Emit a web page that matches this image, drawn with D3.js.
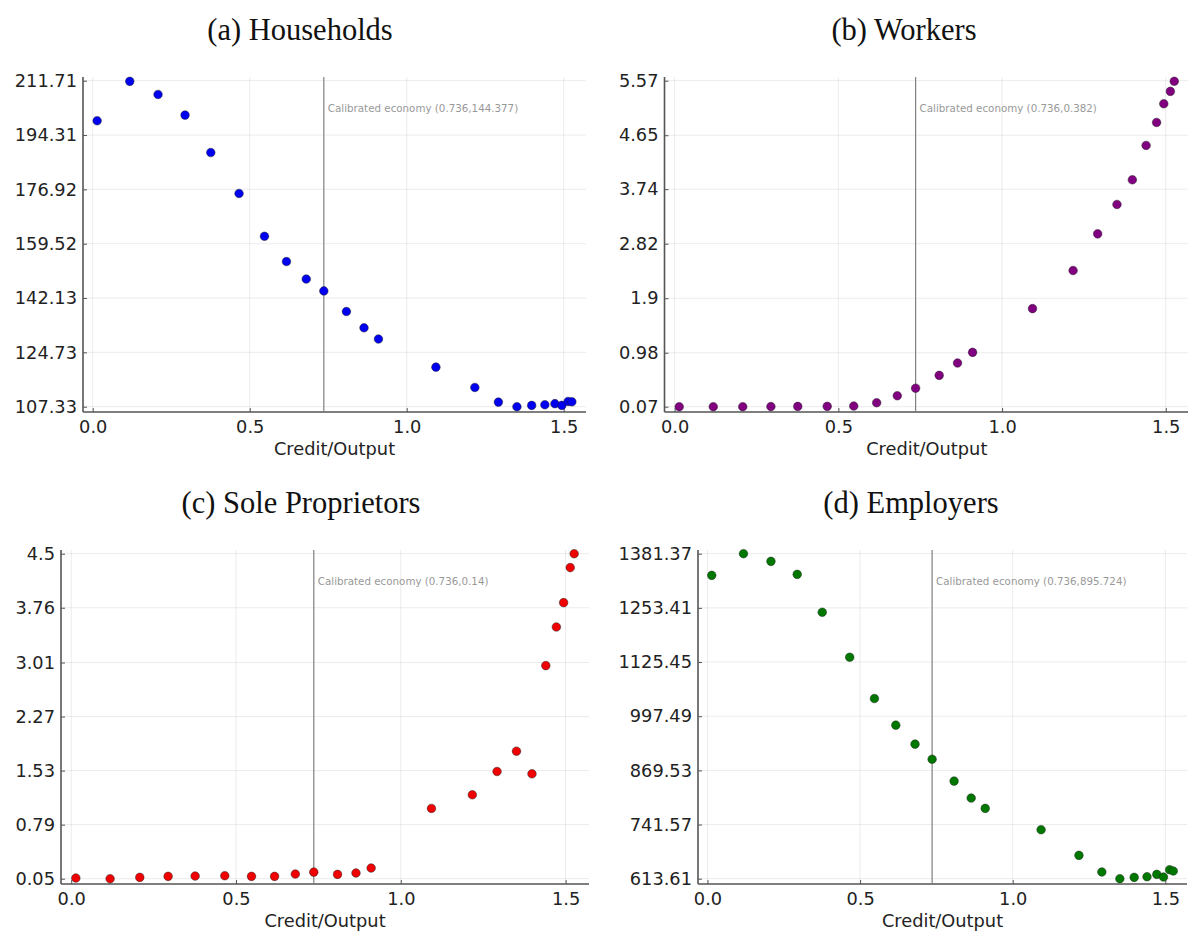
<!DOCTYPE html>
<html>
<head>
<meta charset="utf-8">
<script src="https://cdn.jsdelivr.net/npm/d3@7"></script>
<style>
  body { margin: 0; background: #fff; }
  svg { display: block; }
</style>
</head>
<body>
<div id="chart"></div>
<script>
// credit/output values shared by all four panels
const creditOutput = [0.014, 0.118, 0.208, 0.294, 0.376, 0.466, 0.547, 0.617, 0.680, 0.736,
    0.808, 0.864, 0.910, 1.093, 1.217, 1.292, 1.351, 1.398, 1.440, 1.472, 1.494, 1.514, 1.526];

const households = [198.9, 211.5, 207.3, 200.7, 188.7, 175.6, 161.9, 153.8, 148.2, 144.4,
    137.8, 132.6, 129.0, 120.0, 113.5, 108.8, 107.33, 107.75, 107.96, 108.3, 107.75, 109.0, 108.9];
const workers = [0.07, 0.07, 0.07, 0.072, 0.075, 0.076, 0.081, 0.137, 0.255, 0.382,
    0.599, 0.807, 0.987, 1.725, 2.367, 2.986, 3.482, 3.898, 4.478, 4.866, 5.181, 5.39, 5.56];
const soleProprietors = [0.059, 0.05, 0.068, 0.082, 0.086, 0.091, 0.082, 0.082, 0.114, 0.14,
    0.109, 0.128, 0.196, 1.012, 1.199, 1.518, 1.796, 1.486, 2.968, 3.497, 3.83, 4.31, 4.5];
const employers = [1330.2, 1381.37, 1363.3, 1332.6, 1243.0, 1136.8, 1039.2, 976.3, 931.5, 895.7,
    844.2, 804.1, 779.7, 729.4, 668.8, 629.5, 613.6, 616.8, 618.3, 623.8, 617.5, 634.8, 631.7];

const xTicks = [0, 0.5, 1.0, 1.5];
const householdsTicks = ["107.33", "124.73", "142.13", "159.52", "176.92", "194.31", "211.71"];
const workersTicks = ["0.07", "0.98", "1.9", "2.82", "3.74", "4.65", "5.57"];
const soleTicks = ["0.05", "0.79", "1.53", "2.27", "3.01", "3.76", "4.5"];
const employersTicks = ["613.61", "741.57", "869.53", "997.49", "1125.45", "1253.41", "1381.37"];

const calibrated = 0.736;
const titles = ["(a) Households", "(b) Workers", "(c) Sole Proprietors", "(d) Employers"];
const calibratedLabels = ["144.377", "0.382", "0.14", "895.724"];

const W = 1188, H = 932;
const svg = d3.select("#chart").append("svg")
    .attr("width", W)
    .attr("height", H);

// layout of each panel (pixels)
const panels = [
    {values: households, ticks: householdsTicks, color: "#0000f0", left: 83, right: 586, top: 77, bottom: 412, titleX: 300},
    {values: workers, ticks: workersTicks, color: "#800080", left: 664.5, right: 1189, top: 77, bottom: 412, titleX: 904},
    {values: soleProprietors, ticks: soleTicks, color: "#f00000", left: 61, right: 589, top: 550, bottom: 884, titleX: 301},
    {values: employers, ticks: employersTicks, color: "#007800", left: 698, right: 1187, top: 550, bottom: 884, titleX: 911}
];

panels.forEach(function(p, i) {
    let g = svg.append("g");

    let x = d3.scaleLinear().domain([-0.031, 1.571]).range([p.left, p.right]);
    let tickVals = p.ticks.map(Number);
    let y = d3.scaleLinear()
        .domain([tickVals[0], tickVals[tickVals.length - 1]])
        .range([p.bottom - 5.3, p.top + 3.7]);

    // title
    g.append("text")
        .attr("x", p.titleX)
        .attr("y", p.top - 37)
        .attr("text-anchor", "middle")
        .attr("font-family", "Liberation Serif, serif")
        .attr("font-size", 30.5)
        .attr("fill", "#111")
        .text(titles[i]);

    // grid
    g.append("g").selectAll("line")
        .data(xTicks)
        .enter().append("line")
        .attr("x1", d => x(d)).attr("x2", d => x(d))
        .attr("y1", p.top).attr("y2", p.bottom)
        .attr("stroke", "#000").attr("stroke-opacity", 0.08);
    g.append("g").selectAll("line")
        .data(tickVals)
        .enter().append("line")
        .attr("x1", p.left).attr("x2", p.right)
        .attr("y1", d => y(d)).attr("y2", d => y(d))
        .attr("stroke", "#000").attr("stroke-opacity", 0.08);

    // axes
    let xAxis = d3.axisBottom(x).tickValues(xTicks).tickFormat(d3.format(".1f"))
        .tickSizeInner(-4).tickSizeOuter(0).tickPadding(8);
    let yAxis = d3.axisLeft(y).tickValues(tickVals).tickFormat((d, j) => p.ticks[j])
        .tickSizeInner(-4).tickSizeOuter(0).tickPadding(6);

    let gx = g.append("g").attr("transform", "translate(0," + p.bottom + ")").call(xAxis);
    let gy = g.append("g").attr("transform", "translate(" + p.left + ",0)").call(yAxis);
    [gx, gy].forEach(function(a) {
        a.select(".domain").remove();
        a.selectAll(".tick line").attr("stroke", "#555");
        a.selectAll("text")
            .attr("font-family", "DejaVu Sans, sans-serif")
            .attr("font-size", 17.8)
            .attr("fill", "#222");
    });

    // spines
    g.append("line")
        .attr("x1", p.left).attr("x2", p.left)
        .attr("y1", p.top).attr("y2", p.bottom)
        .attr("stroke", "#555").attr("stroke-width", 1.6);
    g.append("line")
        .attr("x1", p.left).attr("x2", p.right)
        .attr("y1", p.bottom).attr("y2", p.bottom)
        .attr("stroke", "#555").attr("stroke-width", 1.6);

    // x label
    g.append("text")
        .attr("x", (p.left + p.right) / 2)
        .attr("y", p.bottom + 43)
        .attr("text-anchor", "middle")
        .attr("font-family", "DejaVu Sans, sans-serif")
        .attr("font-size", 17.8)
        .attr("fill", "#222")
        .text("Credit/Output");

    // calibrated economy line
    g.append("line")
        .attr("x1", x(calibrated)).attr("x2", x(calibrated))
        .attr("y1", p.top).attr("y2", p.bottom)
        .attr("stroke", "#808080").attr("stroke-width", 1.2);
    g.append("text")
        .attr("x", x(calibrated) + 4)
        .attr("y", p.top + 35)
        .attr("font-family", "DejaVu Sans, sans-serif")
        .attr("font-size", 10.3)
        .attr("fill", "#999")
        .text("Calibrated economy (" + calibrated + "," + calibratedLabels[i] + ")");

    // points
    g.append("g").selectAll("circle")
        .data(p.values)
        .enter().append("circle")
        .attr("cx", (d, j) => x(creditOutput[j]))
        .attr("cy", d => y(d))
        .attr("r", 4.3)
        .attr("fill", p.color)
        .attr("stroke", "#222")
        .attr("stroke-opacity", 0.8)
        .attr("stroke-width", 0.6);
});
</script>
</body>
</html>
